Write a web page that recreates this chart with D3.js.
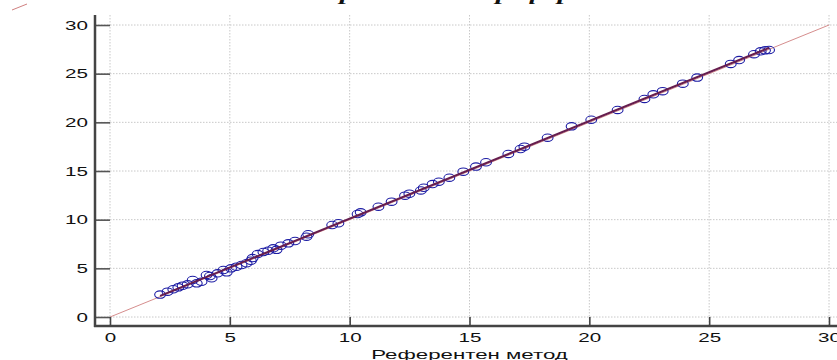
<!DOCTYPE html>
<html lang="bg">
<head>
<meta charset="UTF-8">
<title>Референтен метод</title>
<style>
  body { margin: 0; background: #fff; }
  svg { display: block; }
  .tick text { font-family: "Liberation Sans", Arial, sans-serif; fill: #111; }
</style>
</head>
<body>
<script src="https://d3js.org/d3.v7.min.js"></script>
<script>
// data: reference method (x) vs tested method (y)
let refVals = [2.09, 2.4, 2.64, 2.85, 3.03, 3.24, 3.45, 3.62, 3.82, 4.03, 4.17, 4.24, 4.49, 4.73, 4.87, 5.05,
  5.28, 5.49, 5.7, 5.88, 5.95, 6.16, 6.4, 6.6, 6.81, 6.95, 7.13, 7.44, 7.72, 8.2, 8.27, 9.27, 9.53,
  10.33, 10.46, 11.2, 11.75, 12.31, 12.49, 12.97, 13.09, 13.46, 13.72, 14.16, 14.74, 15.27, 15.69,
  16.62, 17.13, 17.29, 18.26, 19.26, 20.08, 21.18, 22.3, 22.67, 23.06, 23.9, 24.5, 25.9, 26.25,
  26.87, 27.15, 27.33, 27.5];
let testVals = [2.3, 2.6, 2.85, 3.05, 3.22, 3.36, 3.8, 3.46, 3.63, 4.32, 4.21, 3.98, 4.49, 4.83, 4.59, 5.0,
  5.17, 5.34, 5.52, 5.78, 6.05, 6.47, 6.68, 6.81, 7.06, 6.9, 7.33, 7.57, 7.81, 8.25, 8.5, 9.45, 9.63,
  10.58, 10.75, 11.33, 11.85, 12.47, 12.67, 13.0, 13.28, 13.66, 13.9, 14.31, 14.93, 15.45, 15.9,
  16.75, 17.26, 17.5, 18.42, 19.59, 20.27, 21.27, 22.4, 22.88, 23.2, 23.97, 24.6, 26.0, 26.4,
  27.0, 27.3, 27.4, 27.43];
let xTicks = [0, 5, 10, 15, 20, 25, 30];
let yTicks = [0, 5, 10, 15, 20, 25, 30];
let xTitle = 'Референтен метод';
let chartTitle = 'Изпитван метод спрямо новия референтен метод';

let W = 837, H = 360;
let sx = 1.65; // the picture is stretched sideways, text too

let s = d3.select('body').append('svg')
  .attr('width', W)
  .attr('height', H);

let x = d3.scaleLinear().domain([0, 30]).range([110, 829]);
let y = d3.scaleLinear().domain([0, 30]).range([317, 25]);

let axL = 95, axB = 326, plotTop = 15;

// grid
s.append('g').selectAll('line').data(xTicks).enter().append('line')
  .attr('x1', d => x(d)).attr('x2', d => x(d))
  .attr('y1', plotTop).attr('y2', axB)
  .attr('stroke', '#c8c8c8').attr('stroke-dasharray', '1.5,1.5');
s.append('g').selectAll('line').data(yTicks).enter().append('line')
  .attr('x1', axL).attr('x2', W)
  .attr('y1', d => y(d)).attr('y2', d => y(d))
  .attr('stroke', '#c8c8c8').attr('stroke-dasharray', '1.5,1.5');

// identity line
s.append('line')
  .attr('x1', x(0)).attr('y1', y(0))
  .attr('x2', x(30)).attr('y2', y(30))
  .attr('stroke', '#d08080').attr('stroke-width', 0.9);

// least squares line over the data range
let pts = refVals.map((v, i) => [v, testVals[i]]);
let mx = d3.mean(refVals), my = d3.mean(testVals);
let slope = d3.sum(pts, p => (p[0] - mx) * (p[1] - my)) / d3.sum(pts, p => (p[0] - mx) ** 2);
let icpt = my - slope * mx;
let [x0, x1] = d3.extent(refVals);

// points
s.append('g').selectAll('ellipse').data(pts).enter().append('ellipse')
  .attr('cx', d => x(d[0]))
  .attr('cy', d => y(d[1]))
  .attr('rx', 5.4).attr('ry', 3.7)
  .attr('fill', 'none')
  .attr('stroke', '#1c1ca4')
  .attr('stroke-width', 1.1);

s.append('line')
  .attr('x1', x(x0)).attr('y1', y(icpt + slope * x0))
  .attr('x2', x(x1)).attr('y2', y(icpt + slope * x1))
  .attr('stroke', '#661d4e').attr('stroke-width', 2);

// axes
let gy = s.append('g').attr('transform', `translate(${axL},0)`)
  .call(d3.axisLeft(y).tickValues(yTicks).tickSize(-(x(0) - axL)).tickPadding(0));
gy.select('.domain').remove();
gy.selectAll('.tick line').attr('stroke', '#555').attr('stroke-width', 1.6);
gy.selectAll('.tick text')
  .attr('x', -7 / sx).attr('dy', '0.34em')
  .attr('transform', `scale(${sx},1)`)
  .style('font-size', '12.5px');

let gx = s.append('g').attr('transform', `translate(0,${axB})`)
  .call(d3.axisBottom(x).tickValues(xTicks).tickSize(-(axB - y(0))).tickPadding(7));
gx.select('.domain').remove();
gx.selectAll('.tick line').attr('stroke', '#444').attr('stroke-width', 1.6);
gx.selectAll('.tick text')
  .attr('transform', `scale(${sx},1)`)
  .style('font-size', '12.5px');

s.append('line').attr('x1', axL).attr('x2', axL).attr('y1', plotTop).attr('y2', axB + 1)
  .attr('stroke', '#444').attr('stroke-width', 2.5);
s.append('line').attr('x1', axL - 1).attr('x2', W).attr('y1', axB).attr('y2', axB)
  .attr('stroke', '#444').attr('stroke-width', 2.5);

// axis title
s.append('text')
  .attr('transform', `translate(${(x(0) + x(30)) / 2},359) scale(${sx},1)`)
  .attr('text-anchor', 'middle')
  .style('font-family', '"Liberation Sans", Arial, sans-serif')
  .style('font-size', '13.5px')
  .attr('fill', '#111')
  .text(xTitle);

// chart title, mostly above the visible area; "референтен" starts near x=496
let tt = s.append('text')
  .attr('text-anchor', 'start')
  .style('font-family', '"Liberation Serif", "Times New Roman", serif')
  .style('font-weight', 'bold')
  .style('font-style', 'italic')
  .style('font-size', '18px')
  .attr('fill', '#111')
  .text(chartTitle);
let k = chartTitle.indexOf('референтен');
let off = tt.node().getStartPositionOfChar(k).x;
tt.attr('transform', `translate(${496 - off * sx},-0.5) scale(${sx},1)`);

// small red stroke in the top-left corner
s.append('line')
  .attr('x1', 12).attr('y1', 10).attr('x2', 27).attr('y2', 4)
  .attr('stroke', '#d08080').attr('stroke-width', 1);
</script>
</body>
</html>
